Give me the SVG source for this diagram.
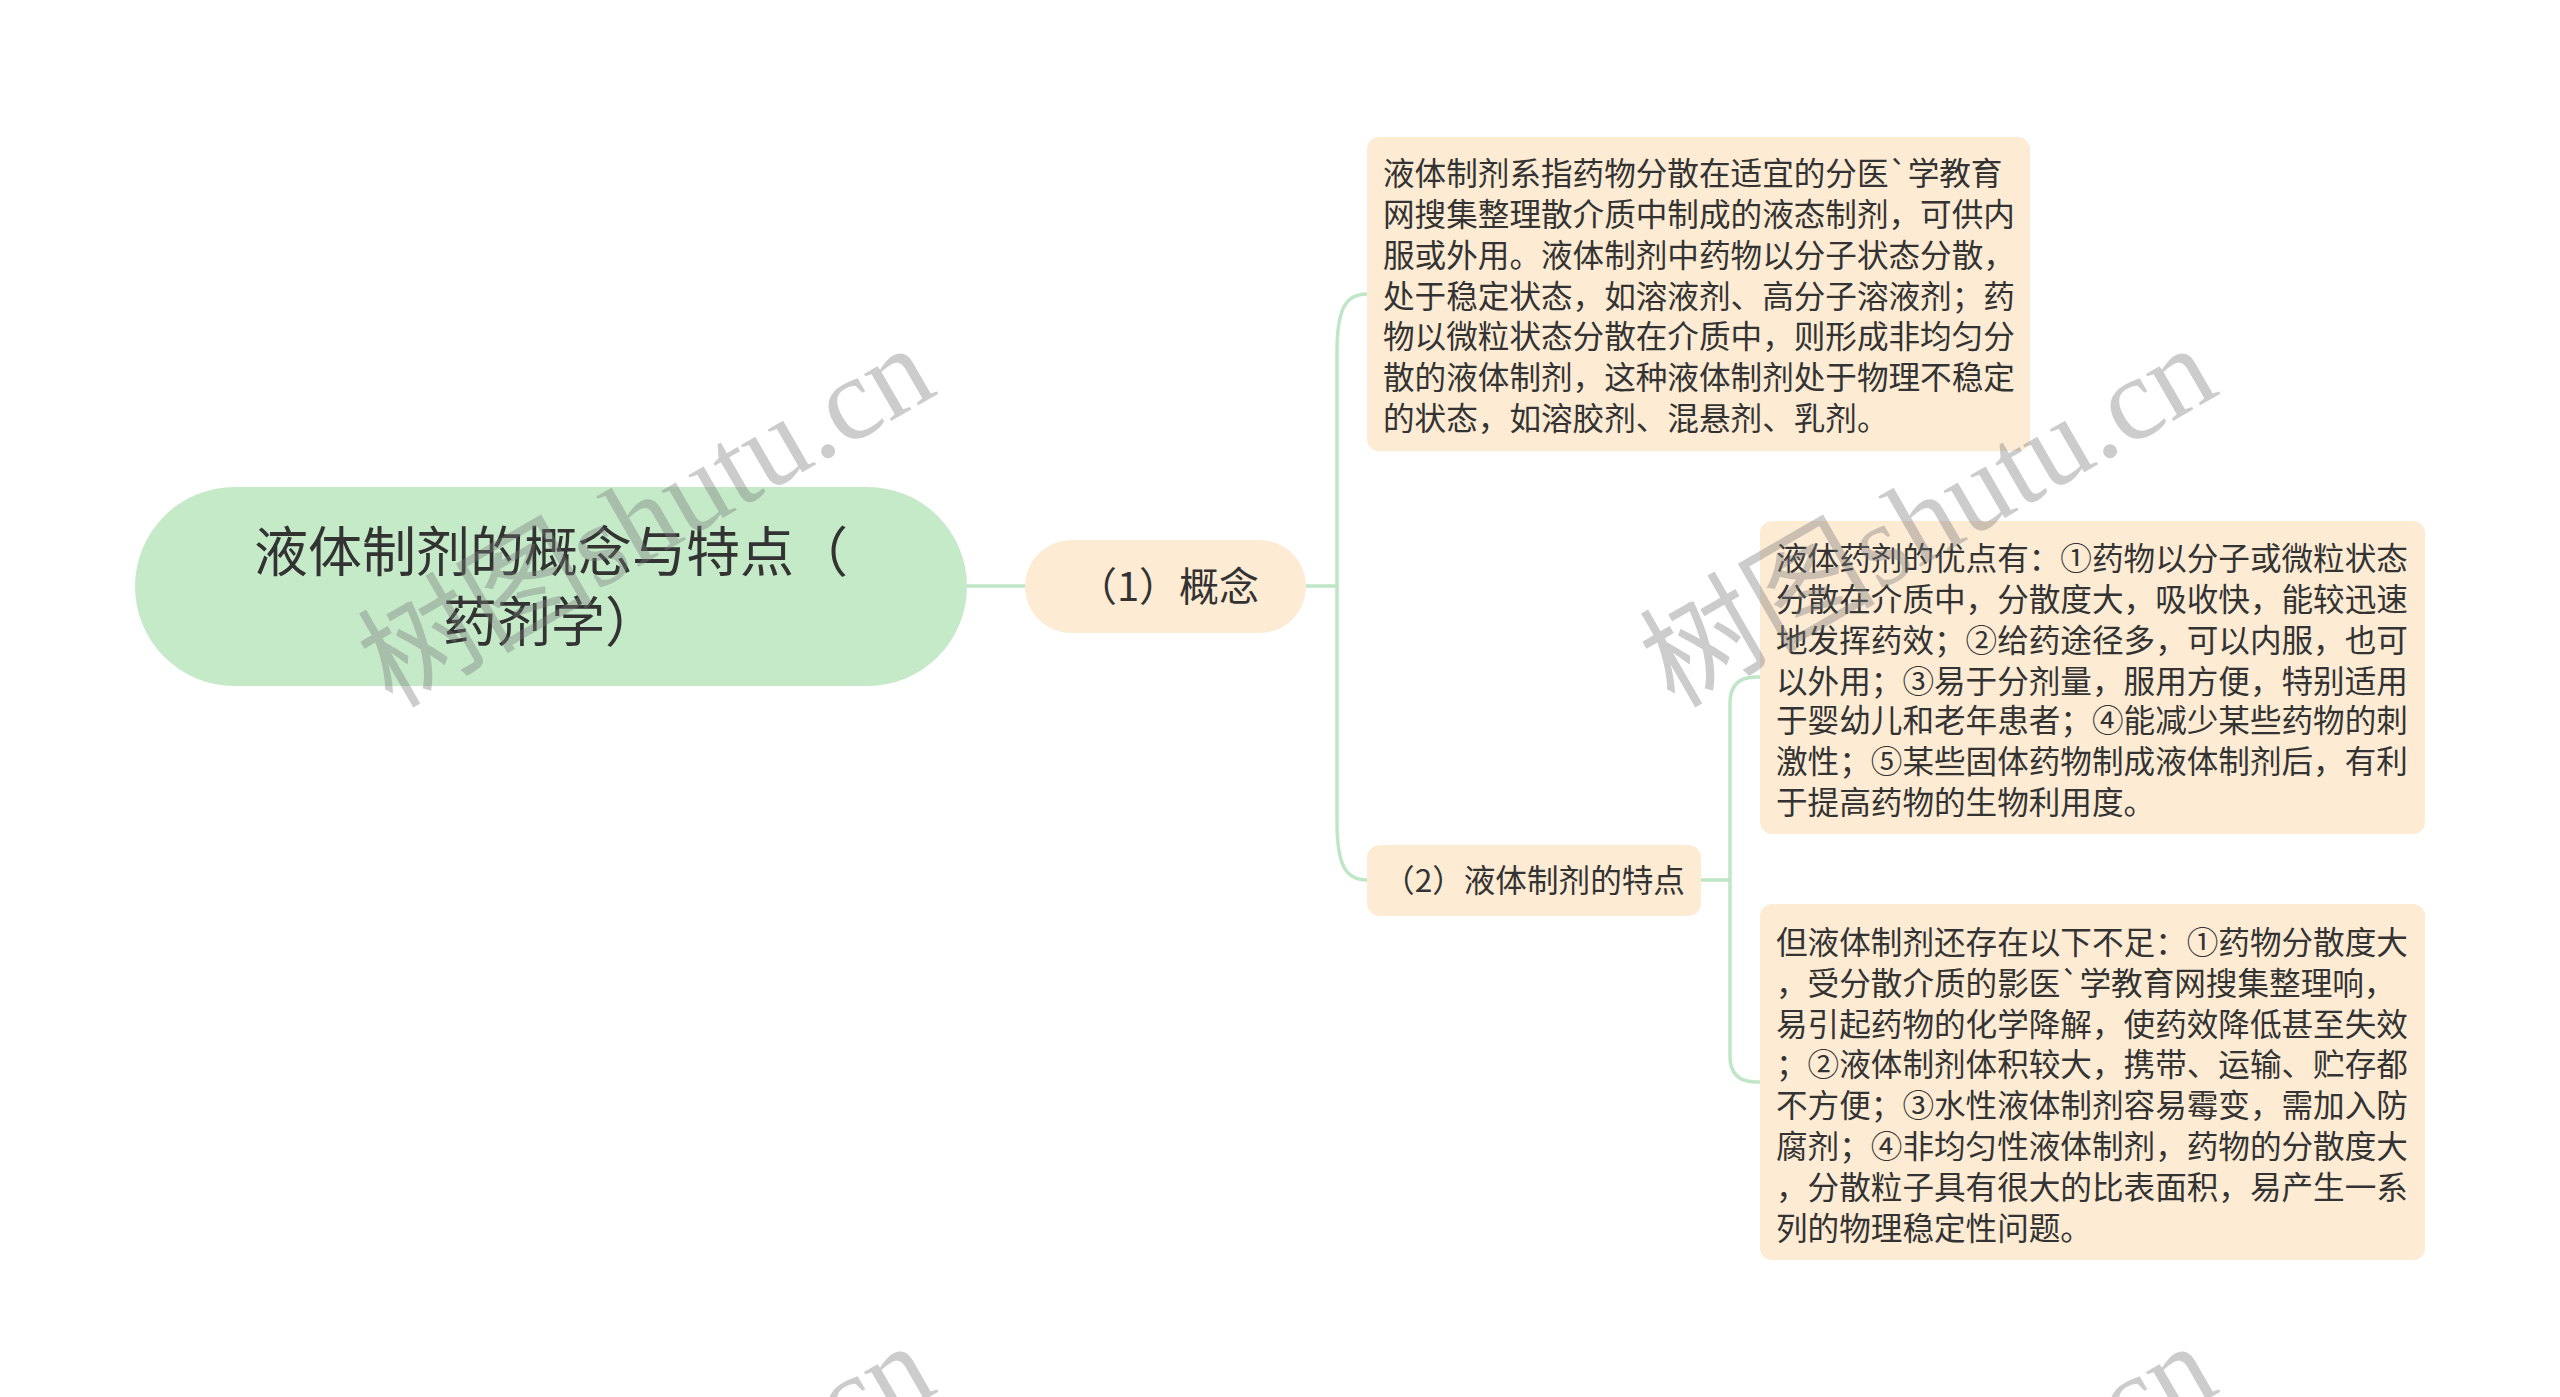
<svg xmlns="http://www.w3.org/2000/svg" width="2560" height="1397" viewBox="0 0 2560 1397">
<style>
.edge{fill:none;stroke:#bfe6c6;stroke-width:3.5;stroke-linecap:round;stroke-linejoin:round}
.root{fill:#c4eac8}
.sub{fill:#fdebd4}
.t{font-family:"Noto Sans CJK SC","Noto Sans",sans-serif;fill:#333333}
.rt{font-size:54px;text-anchor:middle}
.n1{font-size:40px;text-anchor:middle}
.n2{font-size:31.6px;text-anchor:middle}
.lf{font-size:31.6px}
.wm{font-family:"Liberation Serif","Noto Sans CJK SC",serif;font-size:118px;fill:#7a7a7a;fill-opacity:0.38;text-anchor:middle}
</style>
<rect width="2560" height="1397" fill="#ffffff"/>
<g id="connectors">
<path class="edge" d="M967 586 H1025"/>
<path class="edge" d="M1306 586 H1337 V352 C1337 310 1345 294 1367 294"/>
<path class="edge" d="M1337 586 V822 C1337 864 1345 880 1367 880"/>
<path class="edge" d="M1701 880 H1730 V703 Q1730 677 1756 677 H1760"/>
<path class="edge" d="M1730 880 V1056 Q1730 1082 1756 1082 H1760"/>
</g>
<g id="root">
<rect class="root" x="135" y="487" width="832" height="199" rx="99.5"/>
<text class="t rt" x="551" y="572">液体制剂的概念与特点（</text>
<text class="t rt" x="551" y="642">药剂学）</text>
</g>
<g id="node-concept">
<rect class="sub" x="1025" y="540" width="281" height="93" rx="46.5"/>
<text class="t n1" x="1168" y="601">（1）概念</text>
</g>
<g id="node-features">
<rect class="sub" x="1367" y="845" width="334" height="71" rx="13"/>
<text class="t n2" x="1534" y="892">（2）液体制剂的特点</text>
</g>
<g id="leaf-concept">
<rect class="sub" x="1367" y="137" width="663" height="314" rx="12"/>
<text class="t lf">
<tspan x="1383" y="185">液体制剂系指药物分散在适宜的分医`学教育</tspan>
<tspan x="1383" y="226">网搜集整理散介质中制成的液态制剂，可供内</tspan>
<tspan x="1383" y="267">服或外用。液体制剂中药物以分子状态分散，</tspan>
<tspan x="1383" y="308">处于稳定状态，如溶液剂、高分子溶液剂；药</tspan>
<tspan x="1383" y="348">物以微粒状态分散在介质中，则形成非均匀分</tspan>
<tspan x="1383" y="389">散的液体制剂，这种液体制剂处于物理不稳定</tspan>
<tspan x="1383" y="430">的状态，如溶胶剂、混悬剂、乳剂。</tspan>
</text>
</g>
<g id="leaf-advantages">
<rect class="sub" x="1760" y="521" width="665" height="313" rx="12"/>
<text class="t lf">
<tspan x="1776" y="570">液体药剂的优点有：①药物以分子或微粒状态</tspan>
<tspan x="1776" y="611">分散在介质中，分散度大，吸收快，能较迅速</tspan>
<tspan x="1776" y="652">地发挥药效；②给药途径多，可以内服，也可</tspan>
<tspan x="1776" y="693">以外用；③易于分剂量，服用方便，特别适用</tspan>
<tspan x="1776" y="732">于婴幼儿和老年患者；④能减少某些药物的刺</tspan>
<tspan x="1776" y="773">激性；⑤某些固体药物制成液体制剂后，有利</tspan>
<tspan x="1776" y="814">于提高药物的生物利用度。</tspan>
</text>
</g>
<g id="leaf-disadvantages">
<rect class="sub" x="1760" y="904" width="665" height="356" rx="12"/>
<text class="t lf">
<tspan x="1776" y="954">但液体制剂还存在以下不足：①药物分散度大</tspan>
<tspan x="1776" y="995">，受分散介质的影医`学教育网搜集整理响，</tspan>
<tspan x="1776" y="1036">易引起药物的化学降解，使药效降低甚至失效</tspan>
<tspan x="1776" y="1076">；②液体制剂体积较大，携带、运输、贮存都</tspan>
<tspan x="1776" y="1117">不方便；③水性液体制剂容易霉变，需加入防</tspan>
<tspan x="1776" y="1158">腐剂；④非均匀性液体制剂，药物的分散度大</tspan>
<tspan x="1776" y="1199">，分散粒子具有很大的比表面积，易产生一系</tspan>
<tspan x="1776" y="1240">列的物理稳定性问题。</tspan>
</text>
</g>
<g id="watermarks">
<text class="wm" transform="translate(647 518) rotate(-30)" x="0" y="38">树图shutu.cn</text>
<text class="wm" transform="translate(1929 518) rotate(-30)" x="0" y="38">树图shutu.cn</text>
<text class="wm" transform="translate(647 1516) rotate(-30)" x="0" y="38">树图shutu.cn</text>
<text class="wm" transform="translate(1929 1516) rotate(-30)" x="0" y="38">树图shutu.cn</text>
</g>
</svg>
